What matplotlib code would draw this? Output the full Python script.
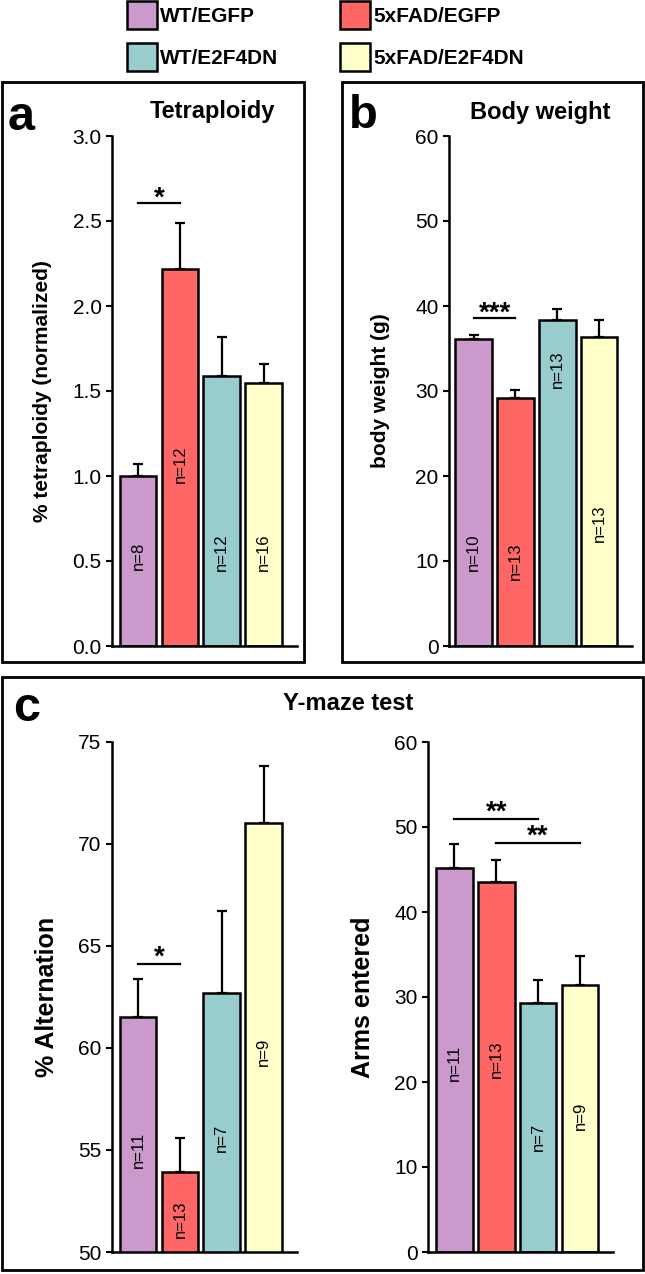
import matplotlib
matplotlib.use('Agg')
import matplotlib.pyplot as plt
from matplotlib.patches import Rectangle
from matplotlib import font_manager

# ---------------- data ----------------
groups = ['WT/EGFP', '5xFAD/EGFP', 'WT/E2F4DN', '5xFAD/E2F4DN']
colors = ['#CC99CC', '#FF6666', '#99CCCC', '#FFFFCC']

tetra_mean = [1.00, 2.22, 1.59, 1.55]
tetra_err = [0.07, 0.27, 0.23, 0.11]
tetra_n = ['n=8', 'n=12', 'n=12', 'n=16']
tetra_npos = [0.53, 1.07, 0.55, 0.55]
tetra_ticks = [0.0, 0.5, 1.0, 1.5, 2.0, 2.5, 3.0]

bw_mean = [36.1, 29.2, 38.4, 36.3]
bw_err = [0.5, 0.9, 1.3, 2.0]
bw_n = ['n=10', 'n=13', 'n=13', 'n=13']
bw_npos = [11.0, 10.0, 32.5, 14.5]
bw_ticks = [0, 10, 20, 30, 40, 50, 60]

alt_mean = [61.5, 53.9, 62.7, 71.05]
alt_err = [1.9, 1.7, 4.0, 2.75]
alt_n = ['n=11', 'n=13', 'n=7', 'n=9']
alt_npos = [55.0, 51.6, 55.6, 59.8]
alt_ticks = [50, 55, 60, 65, 70, 75]

arms_mean = [45.2, 43.5, 29.3, 31.4]
arms_err = [2.8, 2.6, 2.7, 3.4]
arms_n = ['n=11', 'n=13', 'n=7', 'n=9']
arms_npos = [22.2, 22.7, 13.5, 16.0]
arms_ticks = [0, 10, 20, 30, 40, 50, 60]

# ---------------- fonts ----------------
avail = {f.name for f in font_manager.fontManager.ttflist}
base_font = 'Liberation Sans' if 'Liberation Sans' in avail else 'DejaVu Sans'
narrow_font = 'Liberation Sans Narrow' if 'Liberation Sans Narrow' in avail else base_font
plt.rcParams['font.family'] = [base_font, 'DejaVu Sans']

W, H = 645, 1274
fig = plt.figure(figsize=(W / 100, H / 100), dpi=100)


def fx(x):
    return x / W


def fy(y):
    return 1 - y / H


def add_ax(x0, x1, ytop, ybot):
    return fig.add_axes([fx(x0), fy(ybot), (x1 - x0) / W, (ybot - ytop) / H])


def frame(x0, y0, x1, y1):
    fig.add_artist(Rectangle((fx(x0), fy(y1)), (x1 - x0) / W, (y1 - y0) / H,
                             transform=fig.transFigure, fill=False,
                             edgecolor='black', linewidth=2.0))


def draw(ax, means, errs, nlab, npos, ticks, ylim, xlim, fmt):
    x = list(range(len(means)))
    ax.bar(x, means, width=0.88, color=colors, edgecolor='black',
           linewidth=1.8, zorder=2)
    ax.errorbar(x, means, yerr=[[0] * len(errs), errs], fmt='none',
                ecolor='black', elinewidth=1.6, capsize=3.5, capthick=1.6,
                zorder=3)
    for xi, t, p in zip(x, nlab, npos):
        ax.text(xi, p, t, rotation=90, ha='center', va='center',
                fontsize=12, family=[narrow_font, base_font], zorder=4)
    ax.set_ylim(*ylim)
    ax.set_xlim(*xlim)
    ax.set_yticks(ticks)
    ax.set_yticklabels([fmt.format(t) for t in ticks])
    ax.set_xticks([])
    for s in ['top', 'right']:
        ax.spines[s].set_visible(False)
    for s in ['left', 'bottom']:
        ax.spines[s].set_linewidth(1.8)
    ax.tick_params(axis='y', direction='out', length=4.5, width=1.5,
                   labelsize=15, pad=3)
    ax.patch.set_alpha(0)


def sig(ax, x0, x1, y, label, dy):
    ax.plot([x0, x1], [y, y], color='black', linewidth=1.6, clip_on=False)
    ax.text((x0 + x1) / 2, y + dy, label, ha='center', va='bottom',
            fontsize=20, fontweight='bold', clip_on=False)


# ---------------- legend ----------------
leg_pos = [(127, 1), (340, 1), (127, 43), (340, 43)]
for (lx, ly), c, g in zip(leg_pos, colors, groups):
    fig.add_artist(Rectangle((fx(lx), fy(ly + 28)), 30 / W, 28 / H,
                             transform=fig.transFigure, facecolor=c,
                             edgecolor='black', linewidth=1.8))
    fig.text(fx(lx + 33), fy(ly + 21), g, ha='left', va='baseline',
             fontsize=15, fontweight='bold')

# ---------------- panel frames ----------------
frame(2, 82, 304, 662)
frame(342, 82, 643, 662)
frame(2, 677, 643, 1270)

# ---------------- panel a ----------------
axa = add_ax(112, 297, 136, 646)
draw(axa, tetra_mean, tetra_err, tetra_n, tetra_npos, tetra_ticks,
     (0, 3), (-0.62, 3.79), '{:.1f}')
sig(axa, 0, 1, 2.606, '*', -0.05)
fig.text(fx(8), fy(130), 'a', fontsize=35, fontweight='bold', va='baseline')
fig.text(fx(212), fy(118), 'Tetraploidy', fontsize=17, fontweight='bold',
         ha='center', va='baseline')
fig.text(fx(43), fy(391), '% tetraploidy (normalized)', rotation=90,
         fontsize=15, fontweight='bold', ha='center', va='center')

# ---------------- panel b ----------------
axb = add_ax(449, 632, 136, 646)
draw(axb, bw_mean, bw_err, bw_n, bw_npos, bw_ticks,
     (0, 60), (-0.59, 3.79), '{:d}')
sig(axb, 0, 1, 38.6, '***', -1.0)
fig.text(fx(349), fy(128), 'b', fontsize=34, fontweight='bold', va='baseline')
fig.text(fx(540), fy(119), 'Body weight', fontsize=17, fontweight='bold',
         ha='center', va='baseline')
fig.text(fx(380), fy(391), 'body weight (g)', rotation=90,
         fontsize=15, fontweight='bold', ha='center', va='center')

# ---------------- panel c ----------------
axc1 = add_ax(112, 297, 742, 1252)
draw(axc1, alt_mean, alt_err, alt_n, alt_npos, alt_ticks,
     (50, 75), (-0.62, 3.79), '{:d}')
sig(axc1, 0, 1, 64.1, '*', -0.3)

axc2 = add_ax(428, 613, 742, 1252)
draw(axc2, arms_mean, arms_err, arms_n, arms_npos, arms_ticks,
     (0, 60), (-0.63, 3.79), '{:d}')
sig(axc2, 0, 2, 51.0, '**', -0.8)
sig(axc2, 1, 3, 48.1, '**', -0.8)

fig.text(fx(13), fy(721), 'c', fontsize=35, fontweight='bold', va='baseline')
fig.text(fx(348), fy(710), 'Y-maze test', fontsize=17, fontweight='bold',
         ha='center', va='baseline')
fig.text(fx(47), fy(997), '% Alternation', rotation=90,
         fontsize=18, fontweight='bold', ha='center', va='center')
fig.text(fx(363), fy(997), 'Arms entered', rotation=90,
         fontsize=18, fontweight='bold', ha='center', va='center')

fig.savefig('out.png', dpi=100)
